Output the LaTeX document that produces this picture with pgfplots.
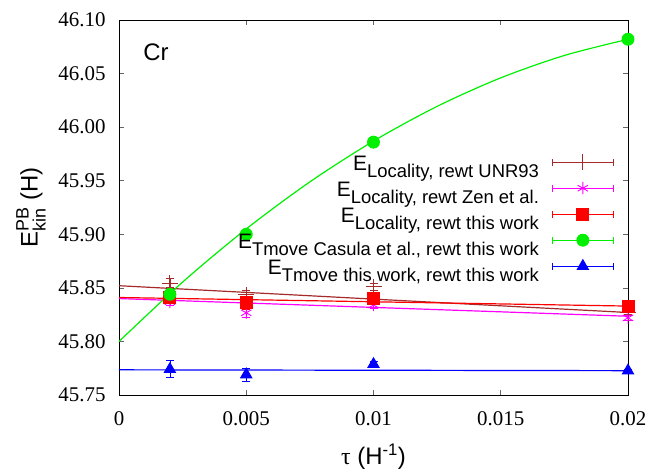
\documentclass[border=0pt]{standalone}
\usepackage{fontspec}
\setmainfont{Liberation Sans}
\newfontfamily\serif{Liberation Serif}
\usepackage{amsmath}
\usepackage{pgfplots}
\pgfplotsset{compat=1.18}

\definecolor{gbrown}{RGB}{165,42,42}
\definecolor{gmag}{RGB}{255,0,255}
\definecolor{gred}{RGB}{255,0,0}
\definecolor{ggreen}{RGB}{0,240,0}
\definecolor{gblue}{RGB}{0,0,255}

% legend text: big E, lowered subscript
\newcommand\lbl[1]{{\fontsize{21}{21}\selectfont E}\raisebox{-6.5bp}{\fontsize{18.5}{18.5}\selectfont #1}}
\newcommand\scr[1]{\text{\fontsize{18}{18}\selectfont #1}}

\pgfplotsset{
  pts/.style={only marks, line width=0.9pt,
    error bars/.cd, y dir=both, y explicit,
    error bar style={line width=0.8pt},
    error mark options={rotate=90, mark size=4bp, line width=0.8pt},
    /pgfplots/.cd},
  fit/.style={no marks, line width=1.2pt, forget plot},
}

\begin{document}
\begin{tikzpicture}
\begin{axis}[
  scale only axis,
  width=509bp, height=375bp,
  xmin=0, xmax=0.02, ymin=45.75, ymax=46.10,
  clip=false,
  xtick={0,0.005,0.01,0.015,0.02},
  xticklabels={0,0.005,0.01,0.015,0.02},
  ytick={45.75,45.80,...,46.10},
  /pgf/number format/assume math mode=true,
  scaled x ticks=false, scaled y ticks=false,
  ticklabel style={font=\serif\fontsize{21}{21}\selectfont},
  xticklabel style={yshift=-13bp},
  yticklabel style={xshift=-10bp, /pgf/number format/.cd, fixed, fixed zerofill, precision=2},
  axis line style={line width=0.8pt},
  major tick length=5bp,
  major tick style={line width=0.6pt, black!60},
  xlabel={{\serif τ} (H\textsuperscript{-1})},
  ylabel={E$^{\scr{PB}}_{\scr{kin}}$ (H)},
  label style={font=\fontsize{24}{24}\selectfont},
  xlabel style={at={(axis description cs:0.5,0)}, anchor=center, yshift=-62bp},
  ylabel style={at={(axis description cs:-0.173,0.5)}, anchor=center},
  legend style={draw=none, fill=none, at={(rel axis cs:1,1)}, anchor=north east,
    xshift=-14bp, yshift=-134bp, inner sep=0pt, row sep=0pt,
    legend plot pos=right, legend cell align=right,
    /tikz/column sep=13bp,
    nodes={inner sep=0pt, text height=15bp, text depth=11bp}},
  legend image code/.code={
    \draw[#1,mark=none] (0bp,6.5bp) -- (61bp,6.5bp);
    \draw[#1,mark=none,line width=0.8pt] (0bp,3bp) -- (0bp,10bp);
    \draw[#1,mark=none,line width=0.8pt] (61bp,3bp) -- (61bp,10bp);
    \draw[#1] plot coordinates {(30.5bp,6.5bp)};
  },
]
% E_Locality, rewt UNR93
\addplot[pts, color=gbrown, mark=+, mark size=8bp] coordinates {
  (0.002,45.8545) +- (0,0.004)
  (0.005,45.8435) +- (0,0.004)
  (0.010,45.8510) +- (0,0.003)
  (0.020,45.8270) +- (0,0.002)
};
\addlegendentry{\lbl{Locality, rewt UNR93}}
% E_Locality, rewt Zen et al.
\addplot[pts, color=gmag, mark=asterisk, mark size=6bp] coordinates {
  (0.002,45.8370) +- (0,0.003)
  (0.005,45.8267) +- (0,0.004)
  (0.010,45.8340) +- (0,0.003)
  (0.020,45.8220) +- (0,0.002)
};
\addlegendentry{\lbl{Locality, rewt Zen et al.}}
% E_Locality, rewt this work
\addplot[pts, color=gred, mark=square*, mark size=6bp] coordinates {
  (0.002,45.8410) +- (0,0.003)
  (0.005,45.8360) +- (0,0.006)
  (0.010,45.8404) +- (0,0.003)
  (0.020,45.8330) +- (0,0.002)
};
\addlegendentry{\lbl{Locality, rewt this work}}
% E_Tmove Casula et al., rewt this work
\addplot[pts, color=ggreen, mark=*, mark size=6bp] coordinates {
  (0.002,45.8440) +- (0,0.001)
  (0.005,45.9000) +- (0,0.001)
  (0.010,45.9860) +- (0,0.001)
  (0.020,46.0820) +- (0,0.001)
};
\addlegendentry{\lbl{Tmove Casula et al., rewt this work}}
% E_Tmove this work, rewt this work
\addplot[pts, color=gblue, mark=triangle*, mark size=6.5bp] coordinates {
  (0.002,45.7740) +- (0,0.008)
  (0.005,45.7690) +- (0,0.006)
  (0.010,45.7787) +- (0,0.003)
  (0.020,45.7727) +- (0,0.001)
};
\addlegendentry{\lbl{Tmove this work, rewt this work}}

% fitted curves
\addplot[fit, color=gbrown] coordinates {(0,45.852) (0.02,45.827)};
\addplot[fit, color=gmag] coordinates {(0,45.840) (0.02,45.8235)};
\addplot[fit, color=gred] coordinates {(0,45.841) (0.02,45.833)};
\addplot[fit, color=gblue] coordinates {(0,45.7735) (0.02,45.7727)};
\addplot[fit, color=ggreen, smooth] coordinates {
  (0,45.800) (0.0025,45.8554) (0.005,45.9050) (0.0075,45.9489)
  (0.01,45.987) (0.0125,46.0194) (0.015,46.0460) (0.0175,46.0669) (0.02,46.082)
};

\node[anchor=base west, font=\fontsize{24}{24}\selectfont]
  at (rel axis cs:0.041,1) [yshift=-41bp] {Cr};
\end{axis}
\pgfresetboundingbox
\useasboundingbox (-119bp,-79bp) rectangle (531bp,395bp);
\end{tikzpicture}
\end{document}
